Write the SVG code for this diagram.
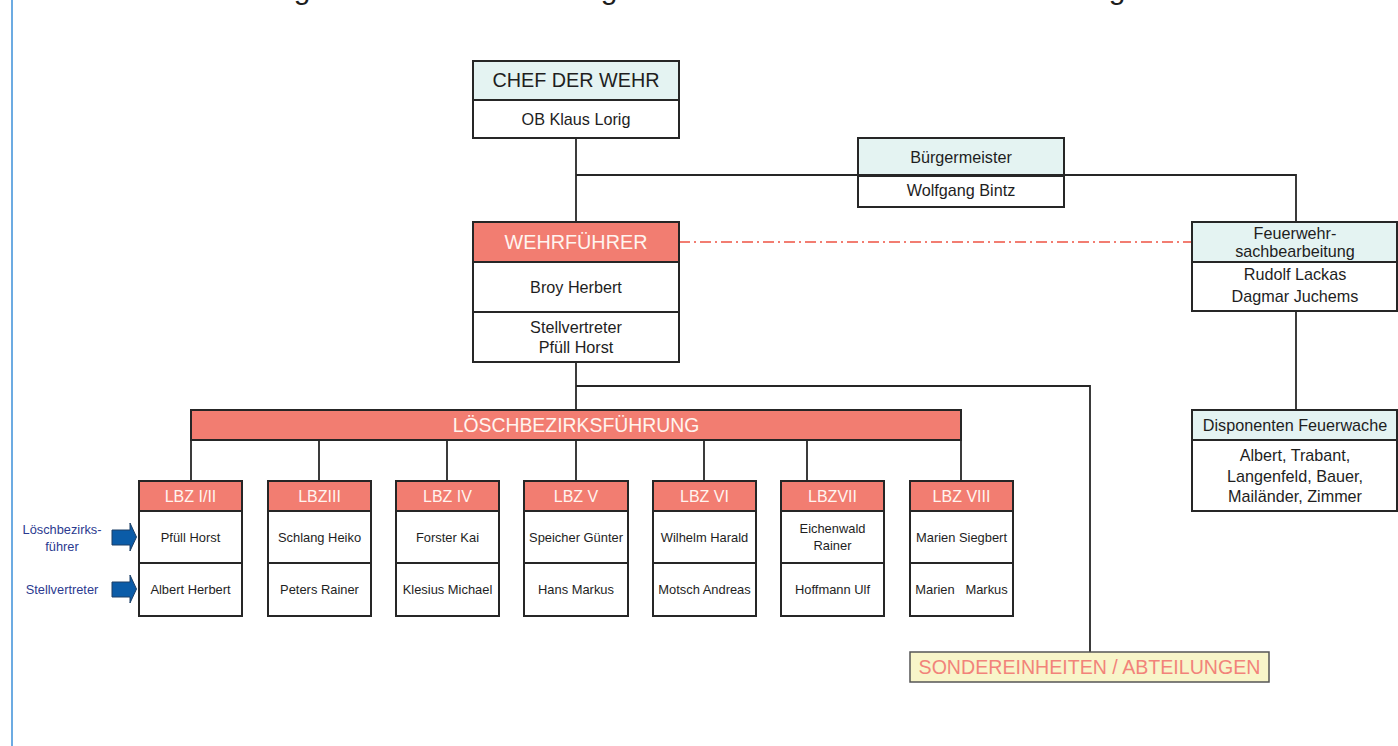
<svg xmlns="http://www.w3.org/2000/svg" width="1398" height="746" viewBox="0 0 1398 746">
<style>
text{font-family:"Liberation Sans",Arial,sans-serif;text-anchor:middle;dominant-baseline:central;fill:#1e1e1e}
.box{fill:#fff;stroke:#262626;stroke-width:2}
.cyan{fill:#e4f3f2;stroke:#262626;stroke-width:2}
.red{fill:#f27d71;stroke:#262626;stroke-width:2}
.con{stroke:#262626;stroke-width:1.8;fill:none}
.wt{fill:#fff4ef}
.lbzh{font-size:16px}
.nm{font-size:12.9px}
.md{font-size:16.2px}
.lab{font-size:12.8px;fill:#2b3a8f}
.arr{fill:#0b5ca8;stroke:#1d3f66;stroke-width:1}
</style>
<rect width="1398" height="746" fill="#fff"/>
<line x1="12" y1="0" x2="12" y2="746" stroke="#3b8fd9" stroke-width="1.5"/>
<g id="title-fragment" style="font-size:30px">
<text x="302" y="-1" style="dominant-baseline:auto">g</text>
<text x="609" y="-1" style="dominant-baseline:auto">g</text>
<text x="1117" y="-1" style="dominant-baseline:auto">g</text>
</g>
<g id="connectors">
<polyline class="con" points="576,137 576,221"/>
<polyline class="con" points="576,175 1296,175 1296,222"/>
<line x1="679" y1="242" x2="1192" y2="242" stroke="#f27d71" stroke-width="1.8" stroke-dasharray="11 4 2 4"/>
<polyline class="con" points="1296,311 1296,410"/>
<polyline class="con" points="576,362 576,410"/>
<polyline class="con" points="576,386 1090,386 1090,652"/>
<line class="con" x1="191" y1="440" x2="191" y2="481"/>
<line class="con" x1="319" y1="440" x2="319" y2="481"/>
<line class="con" x1="447" y1="440" x2="447" y2="481"/>
<line class="con" x1="576" y1="440" x2="576" y2="481"/>
<line class="con" x1="704" y1="440" x2="704" y2="481"/>
<line class="con" x1="807" y1="440" x2="807" y2="481"/>
<line class="con" x1="961" y1="440" x2="961" y2="481"/>
</g>
<g id="chef">
<rect class="cyan" x="473" y="61" width="206" height="39"/>
<rect class="box" x="473" y="100" width="206" height="38"/>
<text x="576" y="80" style="font-size:19.8px">CHEF DER WEHR</text>
<text x="576" y="119" class="md">OB Klaus Lorig</text>
</g>
<g id="buergermeister">
<rect class="cyan" x="858" y="138" width="206" height="38"/>
<rect class="box" x="858" y="176" width="206" height="31"/>
<line class="con" x1="858" y1="175" x2="1064" y2="175"/>
<text x="961" y="157" class="md">Bürgermeister</text>
<text x="961" y="190" class="md">Wolfgang Bintz</text>
</g>
<g id="wehrfuehrer">
<rect class="red" x="473" y="222" width="206" height="40"/>
<rect class="box" x="473" y="262" width="206" height="50"/>
<rect class="box" x="473" y="312" width="206" height="50"/>
<text x="576" y="242" class="wt" style="font-size:19.8px">WEHRFÜHRER</text>
<text x="576" y="287" class="md">Broy Herbert</text>
<text x="576" y="327" class="md">Stellvertreter</text>
<text x="576" y="347" class="md">Pfüll Horst</text>
</g>
<g id="sachbearbeitung">
<rect class="cyan" x="1192" y="222" width="205" height="40"/>
<rect class="box" x="1192" y="262" width="205" height="49"/>
<text x="1295" y="233" class="md">Feuerwehr-</text>
<text x="1295" y="251" class="md">sachbearbeitung</text>
<text x="1295" y="274" class="md">Rudolf Lackas</text>
<text x="1295" y="296" class="md">Dagmar Juchems</text>
</g>
<g id="disponenten">
<rect class="cyan" x="1192" y="410" width="205" height="30"/>
<rect class="box" x="1192" y="440" width="205" height="71"/>
<text x="1295" y="425" class="md">Disponenten Feuerwache</text>
<text x="1295" y="455" class="md">Albert, Trabant,</text>
<text x="1295" y="475.5" class="md">Langenfeld, Bauer,</text>
<text x="1295" y="496" class="md">Mailänder, Zimmer</text>
</g>
<g id="loeschbezirksfuehrung">
<rect class="red" x="191" y="410" width="770" height="30"/>
<text x="576" y="425" class="wt" style="font-size:19.4px">LÖSCHBEZIRKSFÜHRUNG</text>
</g>
<g id="lbz1">
<rect class="red" x="139" y="481" width="103" height="30"/>
<rect class="box" x="139" y="511" width="103" height="52"/>
<rect class="box" x="139" y="563" width="103" height="53"/>
<text x="190.5" y="496" class="wt lbzh">LBZ I/II</text>
<text x="190.5" y="537" class="nm">Pfüll Horst</text>
<text x="190.5" y="589" class="nm">Albert Herbert</text>
</g>
<g id="lbz3">
<rect class="red" x="268" y="481" width="103" height="30"/>
<rect class="box" x="268" y="511" width="103" height="52"/>
<rect class="box" x="268" y="563" width="103" height="53"/>
<text x="319.5" y="496" class="wt lbzh">LBZIII</text>
<text x="319.5" y="537" class="nm">Schlang Heiko</text>
<text x="319.5" y="589" class="nm">Peters Rainer</text>
</g>
<g id="lbz4">
<rect class="red" x="396" y="481" width="103" height="30"/>
<rect class="box" x="396" y="511" width="103" height="52"/>
<rect class="box" x="396" y="563" width="103" height="53"/>
<text x="447.5" y="496" class="wt lbzh">LBZ IV</text>
<text x="447.5" y="537" class="nm">Forster Kai</text>
<text x="447.5" y="589" class="nm">Klesius Michael</text>
</g>
<g id="lbz5">
<rect class="red" x="524" y="481" width="104" height="30"/>
<rect class="box" x="524" y="511" width="104" height="52"/>
<rect class="box" x="524" y="563" width="104" height="53"/>
<text x="576" y="496" class="wt lbzh">LBZ V</text>
<text x="576" y="537" class="nm">Speicher Günter</text>
<text x="576" y="589" class="nm">Hans Markus</text>
</g>
<g id="lbz6">
<rect class="red" x="653" y="481" width="103" height="30"/>
<rect class="box" x="653" y="511" width="103" height="52"/>
<rect class="box" x="653" y="563" width="103" height="53"/>
<text x="704.5" y="496" class="wt lbzh">LBZ VI</text>
<text x="704.5" y="537" class="nm">Wilhelm Harald</text>
<text x="704.5" y="589" class="nm">Motsch Andreas</text>
</g>
<g id="lbz7">
<rect class="red" x="781" y="481" width="103" height="30"/>
<rect class="box" x="781" y="511" width="103" height="52"/>
<rect class="box" x="781" y="563" width="103" height="53"/>
<text x="832.5" y="496" class="wt lbzh">LBZVII</text>
<text x="832.5" y="528.5" class="nm">Eichenwald</text>
<text x="832.5" y="545" class="nm">Rainer</text>
<text x="832.5" y="589" class="nm">Hoffmann Ulf</text>
</g>
<g id="lbz8">
<rect class="red" x="910" y="481" width="103" height="30"/>
<rect class="box" x="910" y="511" width="103" height="52"/>
<rect class="box" x="910" y="563" width="103" height="53"/>
<text x="961.5" y="496" class="wt lbzh">LBZ VIII</text>
<text x="961.5" y="537" class="nm">Marien Siegbert</text>
<text x="961.5" y="589" class="nm" xml:space="preserve">Marien   Markus</text>
</g>
<g id="sondereinheiten">
<rect x="910" y="652" width="359" height="30" fill="#f8f5c9" stroke="#555" stroke-width="1.5"/>
<text x="1089.5" y="667" style="font-size:19.6px;fill:#f2837a">SONDEREINHEITEN / ABTEILUNGEN</text>
</g>
<g id="legend">
<text x="62" y="529" class="lab">Löschbezirks-</text>
<text x="62" y="546" class="lab">führer</text>
<text x="62" y="589" class="lab">Stellvertreter</text>
<polygon class="arr" points="112,530 130,530 130,523 136.5,537 130,551 130,545 112,545"/>
<polygon class="arr" points="112,582 130,582 130,575 136.5,589 130,603 130,597 112,597"/>
</g>
</svg>
